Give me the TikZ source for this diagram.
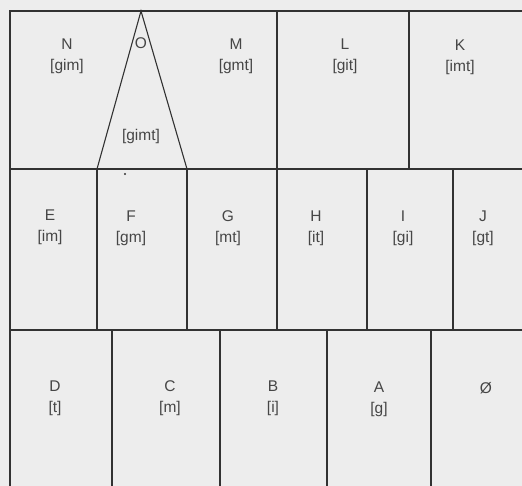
\documentclass[tikz,border=0pt]{standalone}
\usepackage{fontspec}
\setmainfont{Liberation Sans}
\usepackage{tikz}
\definecolor{paper}{RGB}{237,237,237}
\definecolor{ink}{RGB}{50,50,50}
\definecolor{labelgray}{RGB}{70,70,70}
\tikzset{
  frame/.style = {draw=ink, line width=1.8pt},
  wall/.style  = {draw=ink, line width=1.1pt},
  cell/.style  = {align=center, inner sep=0pt, text=labelgray,
                  font=\fontsize{15.5}{21}\selectfont},
}

\begin{document}
\begin{tikzpicture}[x=1pt, y=-1pt]
  \useasboundingbox[fill=paper] (0,0) rectangle (522,486);

  % frame: only the top and left edges are in view
  \draw[frame] (522,11) -- (10,11) -- (10,486);

  % row separators
  \draw[wall] (10,169) -- (522,169);
  \draw[wall] (10,330) -- (522,330);

  % top row walls and the O wedge
  \foreach \px in {277, 409}{
    \draw[wall] (\px,11) -- (\px,169);
  }
  \draw[wall] (97,169) -- (141,11) -- (187,169);

  % middle row walls
  \foreach \px in {97, 187, 277, 367, 453}{
    \draw[wall] (\px,169) -- (\px,330);
  }

  % bottom row walls
  \foreach \px in {112, 220, 327, 431}{
    \draw[wall] (\px,330) -- (\px,486);
  }

  % stray dot under the wedge
  \fill[ink] (125,174) circle (1.1pt);

  % top row labels
  \node[cell] (N) at (67,56)   {N\\{}[gim]};
  \node[cell] (O) at (141,43)  {O};
  \node[cell] (Oset) at (141,136) {[gimt]};
  \node[cell] (M) at (236,56)  {M\\{}[gmt]};
  \node[cell] (L) at (345,56)  {L\\{}[git]};
  \node[cell] (K) at (460,57)  {K\\{}[imt]};

  % middle row labels
  \node[cell] (E) at (50,227)  {E\\{}[im]};
  \node[cell] (F) at (131,228) {F\\{}[gm]};
  \node[cell] (G) at (228,228) {G\\{}[mt]};
  \node[cell] (H) at (316,228) {H\\{}[it]};
  \node[cell] (I) at (403,228) {I\\{}[gi]};
  \node[cell] (J) at (483,228) {J\\{}[gt]};

  % bottom row labels
  \node[cell] (D) at (55,398)  {D\\{}[t]};
  \node[cell] (C) at (170,398) {C\\{}[m]};
  \node[cell] (B) at (273,398) {B\\{}[i]};
  \node[cell] (A) at (379,399) {A\\{}[g]};
  \node[cell] (empty) at (486,388) {Ø};
\end{tikzpicture}
\end{document}
